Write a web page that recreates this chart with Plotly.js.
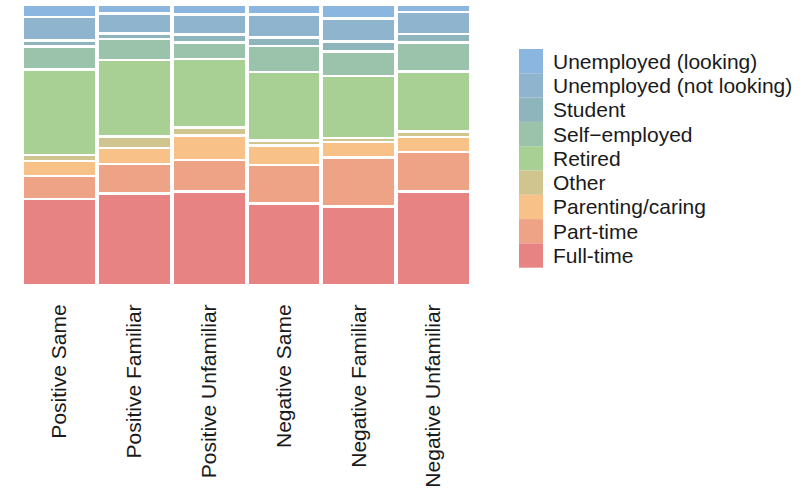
<!DOCTYPE html>
<html>
<head>
<meta charset="utf-8">
<script src="https://cdn.plot.ly/plotly-3.0.1.min.js"></script>
<style>
  html, body { margin: 0; padding: 0; background: #fff; }
  #chart { width: 810px; height: 498px; }
</style>
</head>
<body>
<div id="chart"></div>
<script>
// Categories (x axis)
const categories = ["Positive Same", "Positive Familiar", "Positive Unfamiliar",
                    "Negative Same", "Negative Familiar", "Negative Unfamiliar"];

// Series values (percent of each group), bottom of stack first
const fullTime        = [30.8, 32.6, 33.4, 29.2, 28.1, 33.4];
const partTime        = [8.1, 10.6, 11.4, 13.7, 17.5, 14.2];
const parentingCaring = [5.4, 5.6, 8.7, 6.9, 5.6, 5.4];
const other           = [2.2, 4.1, 2.9, 1.8, 1.3, 1.8];
const retired         = [30.5, 27.4, 24.5, 24.5, 22.2, 21.6];
const selfEmployed    = [8.1, 7.4, 5.8, 9.4, 8.7, 10.3];
const student         = [2.2, 2.0, 2.9, 2.9, 3.6, 3.1];
const unempNotLooking = [8.5, 7.2, 7.2, 8.3, 8.3, 7.8];
const unempLooking    = [4.2, 3.0, 3.4, 3.4, 4.8, 2.5];

// Series names (bottom to top of stack) and colours
const seriesNames = ["Full-time", "Part-time", "Parenting/caring", "Other", "Retired",
                     "Self\u2212employed", "Student", "Unemployed (not looking)", "Unemployed (looking)"];
const seriesValues = [fullTime, partTime, parentingCaring, other, retired,
                      selfEmployed, student, unempNotLooking, unempLooking];
const seriesColors = ["#E78483", "#EEA386", "#F7C188", "#D0C58F", "#A8D095",
                      "#9BC2AB", "#8FB5BC", "#8EB5CD", "#8AB6E0"];

const FONT = "Liberation Sans, Arial, Helvetica, sans-serif";

const traces = seriesNames.map((name, i) => ({
  type: "bar",
  name: name,
  x: categories,
  y: seriesValues[i],
  marker: { color: seriesColors[i], line: { color: "#ffffff", width: 2.5 } },
  showlegend: false,
  hoverinfo: "x+y+name"
}));

// Layout geometry
const M = { l: 22, r: 339, t: 5, b: 213 };
const W = 810 - M.l - M.r;
const H = 498 - M.t - M.b;
const px2x = px => (px - M.l) / W;
const py2y = py => (M.t + H - py) / H;

// Custom legend (top to bottom), built from the series arrays
const legTop = 49, rowH = 24.3, swL = 519, swR = 543, txtX = 551;
const shapes = [];
const annotations = [];
for (let k = 0; k < seriesNames.length; k++) {
  const i = seriesNames.length - 1 - k;
  const y0 = legTop + k * rowH;
  shapes.push({
    type: "rect", xref: "paper", yref: "paper",
    x0: px2x(swL), x1: px2x(swR), y0: py2y(y0 + rowH), y1: py2y(y0),
    fillcolor: seriesColors[i], line: { width: 0 }
  });
  annotations.push({
    xref: "paper", yref: "paper",
    x: px2x(txtX), y: py2y(y0 + rowH / 2),
    xanchor: "left", yanchor: "middle",
    text: seriesNames[i], showarrow: false,
    font: { family: FONT, size: 21, color: "#1a1a1a" }
  });
}

const layout = {
  width: 810, height: 498,
  margin: M,
  paper_bgcolor: "#ffffff",
  plot_bgcolor: "#ffffff",
  barmode: "stack",
  barnorm: "percent",
  bargap: 0.02,
  showlegend: false,
  font: { family: FONT, color: "#1a1a1a" },
  xaxis: {
    type: "category",
    tickangle: -90,
    ticks: "outside", ticklen: 10, tickcolor: "rgba(0,0,0,0)",
    tickfont: { family: FONT, size: 21, color: "#1a1a1a" },
    showgrid: false, zeroline: false, showline: false
  },
  yaxis: {
    range: [0, 100],
    visible: false,
    showgrid: false, zeroline: false
  },
  shapes: shapes,
  annotations: annotations
};

Plotly.newPlot("chart", traces, layout, { staticPlot: true, displayModeBar: false });
</script>
</body>
</html>
